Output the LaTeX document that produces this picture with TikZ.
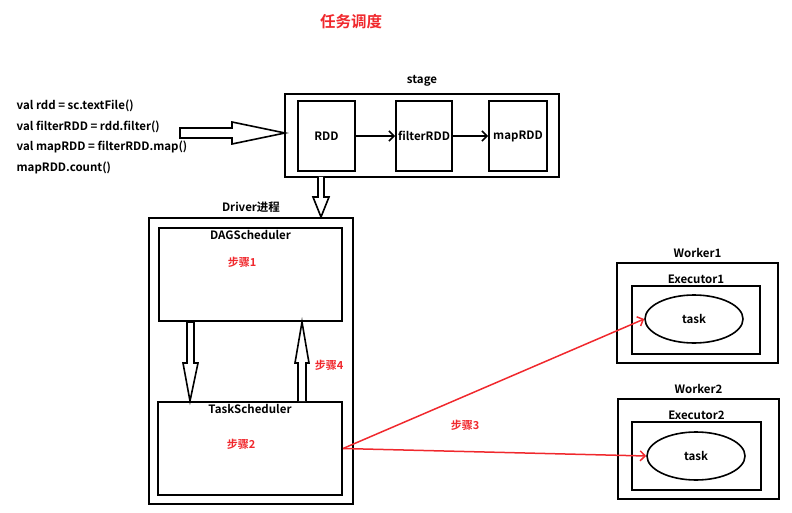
\documentclass[tikz,border=0pt]{standalone}
\usepackage{fontspec}
\setmainfont{Noto Sans CJK SC}[BoldFont={Noto Sans CJK SC Bold}]
\usepackage{tikz}
\usetikzlibrary{arrows.meta,positioning,shapes.geometric}

\definecolor{stepred}{RGB}{240,40,45}

\begin{document}
\begin{tikzpicture}[x=1pt,y=-1pt,>={Straight Barb[length=5pt,width=10pt]},semithick,
        box/.style={draw,line width=2pt,inner sep=0pt},
        lbl/.style={font=\bfseries\fontsize{11.5}{13}\selectfont,inner sep=1pt},
        redlbl/.style={font=\bfseries\fontsize{11}{13}\selectfont,text=stepred,inner sep=1pt},
        tasknode/.style={draw,ellipse,line width=1.6pt,minimum width=98pt,minimum height=48pt,
            font=\bfseries\fontsize{11.5}{13}\selectfont},
        hollow/.style={draw,line width=1.6pt,fill=white,line join=miter},
        redarrow/.style={->,draw=stepred,line width=1.5pt}]
    \useasboundingbox (0,0) rectangle (792,513);

    \node[font=\bfseries\fontsize{15.5}{18}\selectfont,text=stepred] (title) at (351,22) {任务调度};

    % code
    \node[anchor=west,align=left,font=\bfseries\fontsize{11.5}{20.5}\selectfont] (code) at (13,137)
        {val rdd = sc.textFile()\\val filterRDD = rdd.filter()\\val mapRDD = filterRDD.map()\\mapRDD.count()};

    % stage
    \node[box,minimum width=274pt,minimum height=83pt] (stage) at (422,135.5) {};
    \node[lbl,above=5pt of stage] {stage};
    \node[box,minimum width=57pt,minimum height=70pt,lbl] (rdd)    at (326.5,136) {RDD};
    \node[box,minimum width=56pt,minimum height=70pt,lbl] (filter) at (424,136)   {filterRDD};
    \node[box,minimum width=58pt,minimum height=70pt,lbl] (map)    at (518,136)   {mapRDD};
    \draw[->,line width=1.5pt] (rdd) -- (filter);
    \draw[->,line width=1.5pt] (filter) -- (map);

    % Driver
    \node[box,minimum width=204pt,minimum height=286pt] (driver) at (251,361) {};
    \node[lbl,above=3pt of driver] {Driver进程};
    \node[box,minimum width=183pt,minimum height=93pt] (dag) at (250.5,274.5) {};
    \node[lbl,below=2pt of dag.north] {DAGScheduler};
    \node[redlbl] at (242,262) {步骤1};
    \node[box,minimum width=184pt,minimum height=93pt] (tasks) at (250,448.5) {};
    \node[lbl,below=2pt of tasks.north] {TaskScheduler};
    \node[redlbl] at (241,444) {步骤2};
    \node[redlbl] at (329,365) {步骤4};

    % hollow arrows
    \draw[hollow] (180,128) -- (232,128) -- (232,122) -- (285,133) -- (232,144) -- (232,138) -- (180,138) -- cycle;
    \draw[hollow] (318,177) -- (318,197) -- (313,197) -- (321,217) -- (329,197) -- (324,197) -- (324,177);
    \draw[hollow] (187,322) -- (187,363) -- (183,363) -- (190,401) -- (198,363) -- (194,363) -- (194,322) -- cycle;
    \draw[hollow] (298,401) -- (298,363) -- (295,363) -- (302,322) -- (309,363) -- (306,363) -- (306,401);

    % workers
    \node[box,minimum width=161pt,minimum height=100pt] (worker1) at (697.5,313) {};
    \node[lbl,above=3pt of worker1] {Worker1};
    \node[box,minimum width=128pt,minimum height=68pt] (exec1) at (696,320) {};
    \node[lbl,above=0pt of exec1] {Executor1};
    \node[tasknode] (task1) at (694,319) {task};

    \node[box,minimum width=161pt,minimum height=100pt] (worker2) at (698.5,449) {};
    \node[lbl,above=3pt of worker2] {Worker2};
    \node[box,minimum width=129pt,minimum height=68pt] (exec2) at (696.5,456) {};
    \node[lbl,above=0pt of exec2] {Executor2};
    \node[tasknode] (task2) at (696,456) {task};

    \draw[redarrow] (tasks.east) -- (task1.west);
    \draw[redarrow] (tasks.east) -- (task2.west);
    \node[redlbl] at (465,425) {步骤3};
\end{tikzpicture}
\end{document}
